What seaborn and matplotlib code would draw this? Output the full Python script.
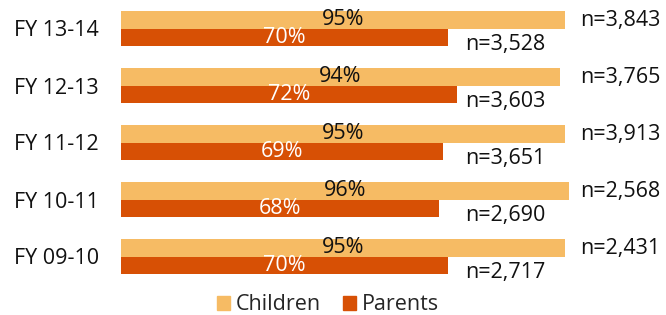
import matplotlib
matplotlib.use('Agg')
import matplotlib.pyplot as plt
import seaborn as sns
import pandas as pd

years = ['FY 13-14', 'FY 12-13', 'FY 11-12', 'FY 10-11', 'FY 09-10']
children = [95, 94, 95, 96, 95]
parents = [70, 72, 69, 68, 70]
children_n = ['n=3,843', 'n=3,765', 'n=3,913', 'n=2,568', 'n=2,431']
parents_n = ['n=3,528', 'n=3,603', 'n=3,651', 'n=2,690', 'n=2,717']

sns.set_style('white')
plt.rcParams['font.family'] = ['Open Sans', 'DejaVu Sans']
fs = 15.5

df = pd.DataFrame({'year': years * 2,
                   'pct': children + parents,
                   'group': ['Children'] * 5 + ['Parents'] * 5})

fig = plt.figure(figsize=(6.66, 3.15), dpi=100)
ax = fig.add_axes([121 / 666, 30 / 315, (588 - 121) / 666, 285 / 315])

sns.barplot(data=df, y='year', x='pct', hue='group', order=years,
            hue_order=['Children', 'Parents'],
            palette=['#F6BB64', '#D75005'], width=0.625,
            saturation=1, orient='h', ax=ax, legend=False, linewidth=0)

ax.set_xlim(0, 100)
ax.set_xlabel('')
ax.set_ylabel('')
ax.set_xticks([])
sns.despine(ax=ax, left=True, bottom=True)
ax.tick_params(axis='y', length=0, pad=16, labelsize=fs, labelcolor='#111111')

# percent labels in the middle of each bar
ax.bar_label(ax.containers[0], labels=[f'{v}%' for v in children],
             label_type='center', fontsize=fs, color='#111111')
ax.bar_label(ax.containers[1], labels=[f'{v}%' for v in parents],
             label_type='center', fontsize=fs, color='white')

# sample sizes in fixed columns on the right
for bar, txt in zip(ax.containers[0], children_n):
    yc = bar.get_y() + bar.get_height() / 2 + 0.02
    ax.text(98.4, yc, txt, va='center', ha='left', fontsize=fs,
            color='#111111', clip_on=False)
for bar, txt in zip(ax.containers[1], parents_n):
    yc = bar.get_y() + bar.get_height() / 2 + 0.12
    ax.text(73.6, yc, txt, va='center', ha='left', fontsize=fs,
            color='#111111', clip_on=False)

handles = [plt.Rectangle((0, 0), 1, 1, color='#F6BB64'),
           plt.Rectangle((0, 0), 1, 1, color='#D75005')]
fig.legend(handles, ['Children', 'Parents'], loc='center',
           bbox_to_anchor=(328 / 666, 1 - 305 / 315), ncol=2, frameon=False,
           fontsize=fs, handlelength=0.6, handleheight=0.6,
           handletextpad=0.3, columnspacing=1.0, borderpad=0)

fig.savefig('out.png', dpi=100)
